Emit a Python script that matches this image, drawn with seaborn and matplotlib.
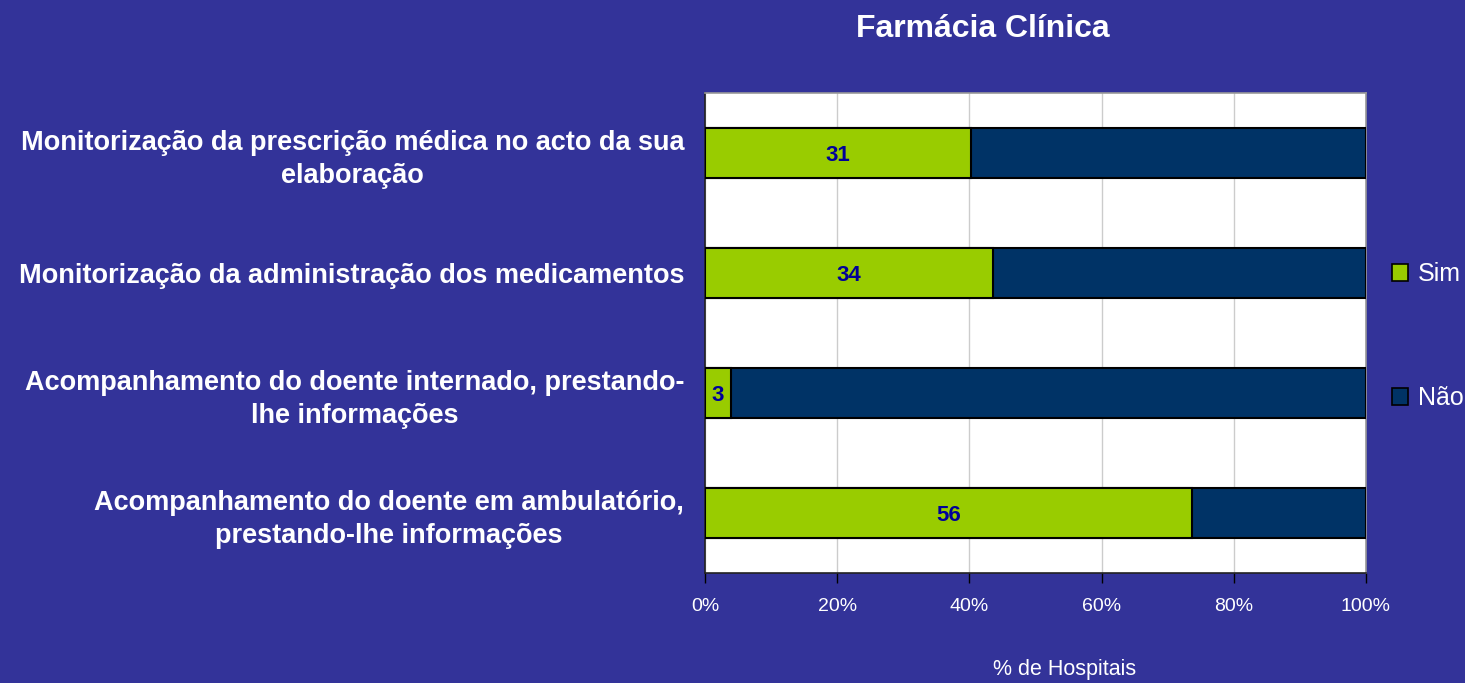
import matplotlib
matplotlib.use("Agg")
import matplotlib.pyplot as plt
from matplotlib.patches import Patch
import seaborn as sns
import pandas as pd
import numpy as np

# --- data ---
categories = [
    "Monitorização da prescrição médica no acto da sua\nelaboração",
    "Monitorização da administração dos medicamentos",
    "Acompanhamento do doente internado, prestando-\nlhe informações",
    "Acompanhamento do doente em ambulatório,\nprestando-lhe informações",
]
sim_counts = [31, 34, 3, 56]
nao_counts = [46, 44, 74, 20]
x_ticks = [0, 20, 40, 60, 80, 100]
x_tick_labels = ["0%", "20%", "40%", "60%", "80%", "100%"]

BG = "#333399"
GREEN = "#99CC00"
NAVY = "#003366"

df = pd.DataFrame({"cat": categories, "sim": sim_counts, "nao": nao_counts})
df["total"] = df["sim"] + df["nao"]
df["sim_pct"] = df["sim"] / df["total"] * 100
df["tot_pct"] = 100.0

sns.set_theme(style="white")
plt.rcParams["font.family"] = ["Liberation Sans", "DejaVu Sans"]

fig = plt.figure(figsize=(14.65, 6.83), dpi=100, facecolor=BG)
ax = fig.add_axes([705 / 1465, 1 - 573 / 683, 661 / 1465, 480 / 683])
ax.set_facecolor("white")

# Não as full bar, Sim drawn on top of it
sns.barplot(data=df, x="tot_pct", y="cat", color=NAVY, orient="h", saturation=1,
            width=0.42, edgecolor="black", linewidth=1.5, ax=ax, zorder=3)
sns.barplot(data=df, x="sim_pct", y="cat", color=GREEN, orient="h", saturation=1,
            width=0.42, edgecolor="black", linewidth=1.5, ax=ax, zorder=4)

# value labels in the green segments
for i, row in df.iterrows():
    ax.text(row["sim_pct"] / 2, i, str(row["sim"]), ha="center", va="center_baseline",
            color="#000099", fontsize=16, fontweight="bold", zorder=5)

ax.set_xlim(0, 100)
ax.set_ylim(3.5, -0.5)
ax.set_xticks(x_ticks)
ax.set_xticklabels(x_tick_labels, color="white", fontsize=14)
ax.xaxis.grid(True, color="#cccccc", linewidth=1, zorder=0)
ax.set_axisbelow(True)

ax.set_yticks(range(len(categories)))
ax.set_yticklabels(categories, color="white", fontsize=19.5, fontweight="bold",
                   multialignment="center", linespacing=1.35)
ax.tick_params(axis="y", which="major", length=0, pad=15)
ax.set_yticks(np.arange(-0.5, 4.0, 1.0), minor=True)
ax.tick_params(axis="y", which="minor", length=8, width=1, color="black", direction="out")
ax.tick_params(axis="x", which="major", length=7, width=1, color="black",
               direction="out", pad=11, bottom=True)

for side in ["top", "right"]:
    ax.spines[side].set_color("#999999")
    ax.spines[side].set_linewidth(1.2)
for side in ["left", "bottom"]:
    ax.spines[side].set_color("#222222")
    ax.spines[side].set_linewidth(1.2)

ax.set_xlabel("")
ax.set_ylabel("")
fig.text(1065 / 1465, 1 - 670 / 683, "% de Hospitais", color="white",
         fontsize=15.5, ha="center", va="center")
fig.text(983 / 1465, 1 - 29 / 683, "Farmácia Clínica", color="white",
         fontsize=23, fontweight="bold", ha="center", va="center")

handles = [Patch(facecolor=GREEN, edgecolor="black", linewidth=1.2, label="Sim"),
           Patch(facecolor=NAVY, edgecolor="black", linewidth=1.2, label="Não")]
leg = fig.legend(handles=handles, loc="center left",
                 bbox_to_anchor=(1392 / 1465, 1 - 336 / 683), frameon=False,
                 fontsize=18, labelspacing=4.0, handlelength=0.65, handleheight=0.65,
                 handletextpad=0.4, borderaxespad=0, borderpad=0)
for t in leg.get_texts():
    t.set_color("white")

fig.savefig("out.png", dpi=100, facecolor=BG)
